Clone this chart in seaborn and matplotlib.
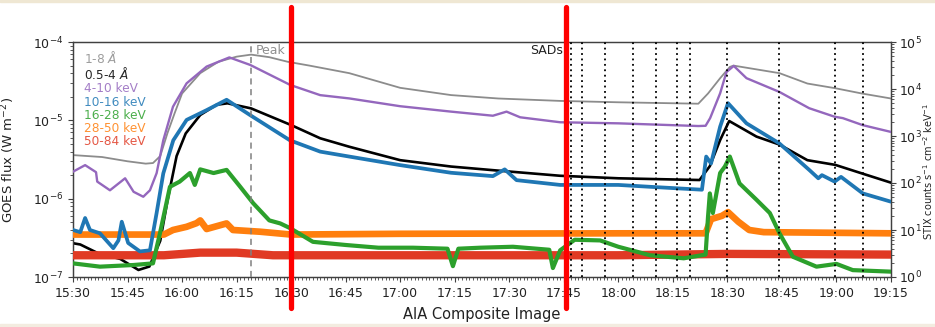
import matplotlib
matplotlib.use("Agg")
import matplotlib.pyplot as plt
import matplotlib.dates as mdates
import matplotlib.transforms as mtrans
from matplotlib.patches import Rectangle
import seaborn as sns
import pandas as pd

DAY = "2022-03-28 "

# ---------------- data ----------------
# GOES 1-8 A (W m^-2)
goes_long_t = ["15:30", "15:38", "15:45", "15:50", "15:52", "15:54", "15:56", "15:58", "16:00",
               "16:05", "16:10", "16:15", "16:19", "16:24", "16:29", "16:35", "16:46", "17:00",
               "17:14", "17:27", "17:44", "18:00", "18:22", "18:24:40", "18:28", "18:30:40",
               "18:31:40", "18:44:20", "18:52", "18:59:40", "19:07", "19:15"]
goes_long_v = [3.6e-6, 3.4e-6, 3.0e-6, 2.8e-6, 2.85e-6, 3.5e-6, 6.9e-6, 1.25e-5, 2.2e-5,
               4.0e-5, 5.6e-5, 6.5e-5, 6.9e-5, 6.4e-5, 5.6e-5, 5.0e-5, 4.0e-5, 2.6e-5,
               2.1e-5, 1.9e-5, 1.77e-5, 1.7e-5, 1.63e-5, 2.2e-5, 3.45e-5, 4.8e-5,
               5.0e-5, 4.0e-5, 2.95e-5, 2.57e-5, 2.2e-5, 1.9e-5]

# GOES 0.5-4 A (W m^-2)
goes_short_t = ["15:30", "15:32", "15:37", "15:43", "15:48", "15:51", "15:54", "15:56", "15:58:30",
                "16:01", "16:05", "16:09:30", "16:12:30", "16:19", "16:30", "16:38", "16:46",
                "17:00", "17:14", "17:27", "17:44", "18:00", "18:22:20", "18:25:10", "18:28",
                "18:30:30", "18:38", "18:44:20", "18:52", "18:59:40", "19:07", "19:15"]
goes_short_v = [2.7e-7, 2.6e-7, 2.0e-7, 1.7e-7, 1.23e-7, 1.36e-7, 2.9e-7, 9.5e-7, 3.5e-6,
                6.8e-6, 1.17e-5, 1.58e-5, 1.65e-5, 1.42e-5, 8.7e-6, 5.9e-6, 4.6e-6,
                3.1e-6, 2.57e-6, 2.28e-6, 1.96e-6, 1.82e-6, 1.73e-6, 2.6e-6, 5.6e-6,
                9.8e-6, 6.2e-6, 4.9e-6, 3.1e-6, 2.7e-6, 2.1e-6, 1.6e-6]

# STIX 4-10 keV (counts s^-1 cm^-2 keV^-1)
stix_4_10_t = ["15:30", "15:33:20", "15:36:20", "15:36:40", "15:40:10", "15:44:20", "15:46:40",
               "15:49:20", "15:51:10", "15:53", "15:54:50", "15:57:30", "16:01:15", "16:06:45",
               "16:13", "16:18:45", "16:29:45", "16:38", "16:46", "17:00", "17:14", "17:25:30",
               "17:29:15", "17:33", "17:44", "18:00", "18:22", "18:24", "18:25:15", "18:28",
               "18:29:45", "18:31:45", "18:35:15", "18:44:15", "18:52:30", "18:59:30",
               "19:01:45", "19:07:15", "19:15"]
stix_4_10_v = [174, 240, 170, 107, 70, 126, 65, 51, 70, 162, 810, 4200, 13200, 30000,
               47000, 32500, 12200, 7400, 6300, 4300, 3300, 2700, 3300, 2500, 1960, 1860,
               1630, 1650, 2400, 8100, 23000, 31000, 17000, 8700, 3900, 2570, 2400, 1700, 1220]

# STIX 10-16 keV
stix_10_16_t = ["15:30", "15:32", "15:33:20", "15:34:40", "15:37:25", "15:41:05", "15:42:30",
                "15:43:25", "15:45:10", "15:48:25", "15:51:10", "15:53", "15:54:50", "15:57:35",
                "16:01:15", "16:06:45", "16:12:15", "16:18:40", "16:29:40", "16:38", "16:46",
                "17:00", "17:14", "17:25:30", "17:28:45", "17:32", "17:44", "18:00", "18:08:45",
                "18:23", "18:24:10", "18:25:30", "18:28", "18:30:10", "18:35:15", "18:44:15",
                "18:52:30", "18:55", "18:56", "18:59:30", "19:01:15", "19:07:15", "19:15"]
stix_10_16_v = [10, 9, 18, 10, 8.5, 4.1, 6, 15, 5.3, 3.5, 3.7, 23, 160, 810,
                2200, 3550, 5900, 2800, 810, 465, 365,
                240, 165, 140, 195, 115, 91, 91, 83,
                72, 365, 260, 1580, 5000, 1860, 700,
                190, 126, 147, 107, 135, 60, 40]

# STIX 16-28 keV
stix_16_28_t = ["15:30", "15:37:25", "15:46:40", "15:52", "15:53:55", "15:56:40", "15:59:20",
                "16:02:10", "16:03:30", "16:05", "16:08:40", "16:12:15", "16:16", "16:19:35",
                "16:24", "16:27", "16:29:40", "16:36", "16:45", "16:54", "17:03:30", "17:13",
                "17:14:30", "17:16", "17:22", "17:31", "17:41", "17:42", "17:44", "17:48",
                "17:55", "18:00", "18:08:45", "18:18", "18:24", "18:24:40", "18:25:10",
                "18:26", "18:28", "18:29:20", "18:30:40", "18:33:20", "18:38", "18:41:40",
                "18:44:20", "18:48", "18:54:30", "19:00", "19:04:30", "19:15"]
stix_16_28_v = [1.95, 1.66, 1.8, 1.95, 8.5, 83, 107,
                163, 91, 195, 163, 190, 83, 37,
                16, 13.8, 11, 5.6, 4.8, 4.2, 4.2, 4.0,
                1.7, 4.0, 4.2, 4.4, 3.8, 1.55, 3.7, 6.2,
                6.0, 4.4, 2.9, 2.5, 3.0, 19, 60,
                23, 163, 225, 365, 98, 44, 23,
                8.5, 2.7, 1.66, 1.9, 1.4, 1.3]

# STIX 28-50 keV
stix_28_50_t = ["15:30", "15:55", "15:57:30", "16:01:15", "16:04", "16:05", "16:06:45",
                "16:12:15", "16:14", "16:21:25", "16:30", "17:00", "18:00", "18:24",
                "18:25:30", "18:28:30", "18:30:10", "18:33", "18:36", "18:40", "19:15"]
stix_28_50_v = [8, 8, 10, 11.7, 14, 16, 10.5,
                13.8, 10, 9.2, 8, 8.3, 8.5, 8.5,
                17, 20, 24, 15, 10, 9, 8.5]

# STIX 50-84 keV
stix_50_84_t = ["15:30", "15:55", "16:05", "16:15", "16:25", "18:00", "18:30", "19:15"]
stix_50_84_v = [2.9, 2.9, 3.3, 3.3, 2.9, 2.9, 3.1, 3.0]

legend_labels = ["1-8 $\\AA$", "0.5-4 $\\AA$", "4-10 keV", "10-16 keV",
                 "16-28 keV", "28-50 keV", "50-84 keV"]
series_colors = ["#8c8c8c", "black", "#9467bd", "#1f77b4", "#2ca02c", "#ff7f0e", "#e03a24"]

peak_time = "16:19"
sad_times = ["17:47", "17:50", "17:56:20", "18:04", "18:10:20", "18:16:10", "18:19:40",
             "18:30", "18:44:10", "18:59:40", "19:07:20"]
marker_times = ["16:30", "17:45:35"]
x_range = ["15:30", "19:15"]


def tt(lst):
    return pd.to_datetime([DAY + s for s in lst], format="mixed")


def num(lst):
    return mdates.date2num(tt(lst).to_pydatetime())


# ---------------- style ----------------
sns.set_style("ticks")
plt.rcParams.update({
    "font.family": ["DejaVu Sans"],
    "axes.edgecolor": "#404040",
    "axes.linewidth": 0.9,
    "xtick.color": "#404040",
    "ytick.color": "#404040",
    "xtick.labelcolor": "#222222",
    "ytick.labelcolor": "#222222",
    "xtick.direction": "out",
    "ytick.direction": "out",
    "xtick.major.size": 3.5,
    "ytick.major.size": 3.5,
    "xtick.minor.size": 2,
    "ytick.minor.size": 2,
    "xtick.minor.visible": True,
    "ytick.minor.visible": True,
    "mathtext.fontset": "dejavusans",
})

W, H = 935, 327
fig = plt.figure(figsize=(W / 100, H / 100), dpi=100)
fig.patch.set_facecolor("white")
ax = fig.add_axes([73 / W, (H - 277) / H, 818 / W, 235 / H])
ax.set_yscale("log")
ax2 = ax.twinx()
ax2.set_yscale("log")

# GOES on left axis
sns.lineplot(x=tt(goes_long_t), y=goes_long_v, ax=ax, color=series_colors[0],
             linewidth=1.3, errorbar=None, zorder=3)
sns.lineplot(x=tt(goes_short_t), y=goes_short_v, ax=ax, color=series_colors[1],
             linewidth=1.9, errorbar=None, zorder=3)

# STIX on right axis
stix = [(stix_4_10_t, stix_4_10_v, 1.7),
        (stix_10_16_t, stix_10_16_v, 2.7),
        (stix_16_28_t, stix_16_28_v, 3.0),
        (stix_28_50_t, stix_28_50_v, 4.8),
        (stix_50_84_t, stix_50_84_v, 6.0)]
for i, (t, v, lw) in enumerate(stix):
    sns.lineplot(x=tt(t), y=v, ax=ax2, color=series_colors[2 + i], linewidth=lw,
                 errorbar=None, zorder=2 + (5 - i))

ax.set_ylim(1e-7, 1e-4)
ax2.set_ylim(1, 1e5)
xr = num(x_range)
ax.set_xlim(xr[0], xr[1])

ax.xaxis.set_major_locator(mdates.MinuteLocator(byminute=[0, 15, 30, 45]))
ax.xaxis.set_major_formatter(mdates.DateFormatter("%H:%M"))
ax.xaxis.set_minor_locator(mdates.MinuteLocator())
ax.tick_params(axis="both", labelsize=9)
ax2.tick_params(axis="y", labelsize=9, pad=2.5)

ax.set_ylabel("GOES flux (W m$^{-2}$)", fontsize=9.5, color="#222222")
ax.yaxis.set_label_coords(-0.068, 0.5)
ax2.set_ylabel("STIX counts s$^{-1}$ cm$^{-2}$ keV$^{-1}$", fontsize=7, color="#222222")
ax2.yaxis.set_label_coords(1.0372, 0.45)
ax.set_xlabel("AIA Composite Image", fontsize=10.5, color="#222222", labelpad=5)

# peak dashed line
trans = mtrans.blended_transform_factory(ax2.transData, ax2.transAxes)
pk = float(num([peak_time])[0])
ax2.axvline(pk, color="gray", ls=(0, (4, 3)), lw=1.1, zorder=8)
ax2.annotate("Peak", xy=(pk, 1.0), xycoords=trans, xytext=(3, -1.5),
             textcoords="offset points", ha="left", va="top", color="#909090", fontsize=9)

# SAD dotted lines
sads = [float(s) for s in num(sad_times)]
for s in sads:
    ax2.axvline(s, color="black", ls=(0, (1, 2)), lw=1.3, zorder=9)
ax2.annotate("SADs", xy=(sads[0], 1.0), xycoords=trans, xytext=(-6, -1.5),
             textcoords="offset points", ha="right", va="top", color="#222222", fontsize=9)

# red marker lines extending beyond the axes
for m in num(marker_times):
    ax2.axvline(float(m), ymin=-0.132, ymax=1.149, color="#ff0000", lw=3.8,
                clip_on=False, zorder=20)

# legend: coloured text only
handles = ax.lines[:2] + ax2.lines[:5]
leg = ax2.legend(handles=handles, labels=legend_labels, loc="upper left",
                 bbox_to_anchor=(0.004, 1.0), frameon=False, handlelength=0,
                 handletextpad=0, labelspacing=0.02, fontsize=8.7, borderaxespad=0.2,
                 borderpad=0.45)
for h in leg.legend_handles:
    h.set_visible(False)
for txt, c in zip(leg.get_texts(), series_colors):
    txt.set_color(c)
    txt.set_alpha(0.85)

# thin beige bands at top and bottom of the screenshot
fig.add_artist(Rectangle((0, 1 - 2 / H), 1, 2 / H, transform=fig.transFigure,
                         color="#efe7d3", zorder=-1))
fig.add_artist(Rectangle((0, 0), 1, 3 / H, transform=fig.transFigure,
                         color="#f3ece0", zorder=-1))

fig.savefig("out.png", dpi=100)
